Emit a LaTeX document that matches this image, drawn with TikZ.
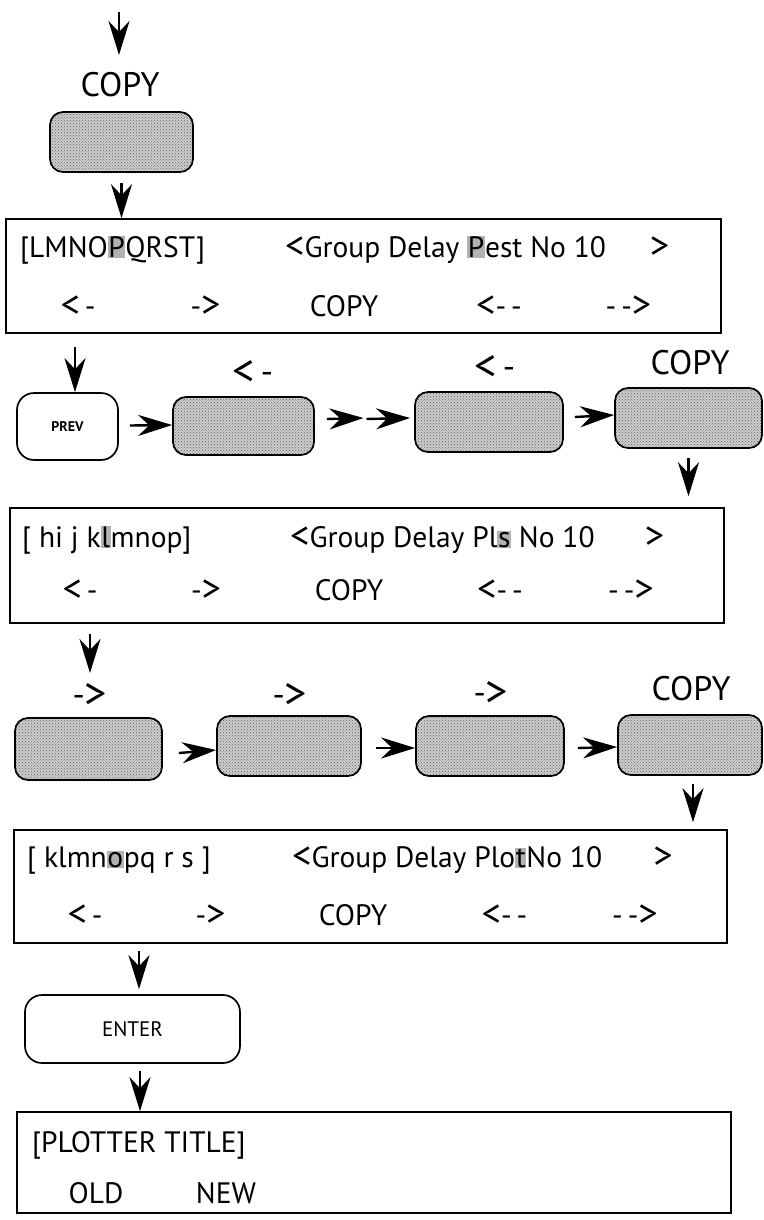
\documentclass[tikz,border=0pt]{standalone}
\usepackage{fontspec}
\setmainfont{PT Sans}
\usetikzlibrary{arrows.meta,patterns,calc}
\newcommand\cur[1]{{\fboxsep=0.6pt\colorbox{black!30}{#1}}}
\newcommand\lsym{\raisebox{-0.06em}{\scalebox{1.3}{<}}}
\newcommand\gsym{\raisebox{-0.06em}{\scalebox{1.3}{>}}}
\begin{document}
\begin{tikzpicture}[x=1pt,y=-1pt,
  key/.style={draw, line width=1.7pt, rounded corners=13pt, minimum height=60pt, inner sep=0pt,
     preaction={fill=black!20}, pattern=crosshatch dots, pattern color=black!60},
  plainkey/.style={draw, line width=1.7pt, rounded corners=17pt, inner sep=0pt, fill=white},
  screen/.style={draw, line width=1.6pt, inner sep=0pt},
  scr/.style={font=\fontsize{29.5}{32}\selectfont, inner sep=0pt},
  lbl/.style={font=\fontsize{34}{37}\selectfont, inner sep=0pt},
  tipst/.style={-{Stealth[length=34pt,width=21pt,inset=11pt]}},
  down/.style={line width=2.4pt, tipst},
  rarr/.style={line width=2.4pt, tipst},
]
\useasboundingbox (0,0) rectangle (763,1220);

% ---------- top ----------
\coordinate (t0) at (119,12);
\coordinate (t1) at (119,55);
\draw[down] (t0) -- (t1);
\node[lbl, anchor=base] (c0) at (120,97) {COPY};
\node[key, minimum width=143pt] (k0) at (121.5,142) {};

% ---------- screen 1 ----------
\node[screen, minimum width=715pt, minimum height=114pt] (s1) at (363.5,276) {};
\draw[down, shorten <=10pt] (k0.south) -- (k0.south |- s1.north);
\node[scr, anchor=base west] (s1a) at (20,257) {[LMNO\cur{P}QRST]};
\node[scr, anchor=base west] (s1b) at (285,257) {\lsym Group Delay \cur{P}est No 10};
\node[scr, anchor=base] (s1c) at (659.5,257) {\gsym};
\node[scr, anchor=base] (s1d) at (78,316) {\lsym\,-};
\node[scr, anchor=base] (s1e) at (205.5,316) {-\gsym};
\node[scr, anchor=base] (s1f) at (344,316) {COPY};
\node[scr, anchor=base] (s1g) at (499,316) {\lsym-{}\,-};
\node[scr, anchor=base] (s1h) at (628.5,316) {-{}\,-\gsym};

% ---------- row 1 ----------
\node[plainkey, minimum width=101pt, minimum height=67pt, font=\fontsize{14}{16}\selectfont\bfseries] (pv) at (67.5,426.5) {PREV};
\node[key, minimum width=141pt, minimum height=58pt] (r2) at (243.5,426) {};
\node[key, minimum width=148pt] (r3) at (489,422) {};
\node[key, minimum width=147pt] (r4) at (688.5,418) {};
\node[lbl, anchor=base] (l12) at (253,383) {\lsym\,-};
\node[lbl, anchor=base] (l13) at (495,378) {\lsym\,-};
\node[lbl, anchor=base] (l14) at (690,374) {COPY};
\coordinate (a1) at (75,0);
\draw[down, shorten <=13pt] (s1.south -| a1) -- (pv.north -| a1);
\draw[rarr] ($(pv.east)+(11,-1)$) -- ($(r2.west)+(0,-1)$);
\coordinate (m23) at ($(r2.east)!0.5!(r3.west)$);
\draw[rarr] ($(r2.east)+(12,-7)$) -- ($(m23)+(-1,-6)$);
\draw[rarr] ($(m23)+(2,-5)$) -- ($(r3.west)+(-4,-4)$);
\draw[rarr] ($(r3.east)+(11,-5)$) -- ($(r4.west)+(0,-3)$);

% ---------- screen 2 ----------
\node[screen, minimum width=714pt, minimum height=115pt] (s2) at (367,565.5) {};
\draw[down, shorten <=9pt, shorten >=11pt] (r4.south) -- (r4.south |- s2.north);
\node[scr, anchor=base west] (s2a) at (22,547) {[ hi j k\cur{l}mnop]};
\node[scr, anchor=base west] (s2b) at (290,547) {\lsym Group Delay Pl\cur{s} No 10};
\node[scr, anchor=base] (s2c) at (654.5,547) {\gsym};
\node[scr, anchor=base] (s2d) at (80,600) {\lsym\,-};
\node[scr, anchor=base] (s2e) at (206,600) {-\gsym};
\node[scr, anchor=base] (s2f) at (349,600) {COPY};
\node[scr, anchor=base] (s2g) at (500,600) {\lsym-{}\,-};
\node[scr, anchor=base] (s2h) at (631,600) {-{}\,-\gsym};

% ---------- row 2 ----------
\node[lbl, anchor=base] (l21) at (90,706) {-\gsym};
\node[lbl, anchor=base] (l22) at (290,706) {-\gsym};
\node[lbl, anchor=base] (l23) at (491,704) {-\gsym};
\node[lbl, anchor=base] (l24) at (691,700) {COPY};
\node[key, minimum width=147pt, minimum height=62pt] (q1) at (88.5,749) {};
\node[key, minimum width=144pt] (q2) at (289,746) {};
\node[key, minimum width=148pt] (q3) at (490,746) {};
\node[key, minimum width=144pt] (q4) at (690,745) {};
\coordinate (a2) at (90,673);
\draw[down, shorten <=10pt] (s2.south -| a2) -- (a2);
\draw[rarr] ($(q1.east)+(16,4)$) -- ($(q2.west)+(0,4)$);
\draw[rarr] ($(q2.east)+(14,2)$) -- ($(q3.west)+(0,2)$);
\draw[rarr] ($(q3.east)+(13,2)$) -- ($(q4.west)+(0,2)$);

% ---------- screen 3 ----------
\node[screen, minimum width=713pt, minimum height=113pt] (s3) at (370.5,886.5) {};
\draw[down, shorten <=8pt, shorten >=7pt] ($(q4.south)+(3,0)$) -- ($(q4.south |- s3.north)+(3,0)$);
\node[scr, anchor=base west] (s3a) at (27,867) {[ klmn\cur{o}pq r s ]};
\node[scr, anchor=base west] (s3b) at (292,867) {\lsym Group Delay Plo\cur{t}No 10};
\node[scr, anchor=base] (s3c) at (663,867) {\gsym};
\node[scr, anchor=base] (s3d) at (85,925) {\lsym\,-};
\node[scr, anchor=base] (s3e) at (210.5,925) {-\gsym};
\node[scr, anchor=base] (s3f) at (353,925) {COPY};
\node[scr, anchor=base] (s3g) at (504.5,925) {\lsym-{}\,-};
\node[scr, anchor=base] (s3h) at (635,925) {-{}\,-\gsym};

% ---------- enter ----------
\node[plainkey, minimum width=215pt, minimum height=68pt, font=\fontsize{21}{24}\selectfont] (en) at (132.5,1029) {ENTER};
\coordinate (a3) at (139,0);
\draw[down, shorten <=7pt, shorten >=5pt] (s3.south -| a3) -- (en.north -| a3);

% ---------- screen 4 ----------
\node[screen, minimum width=714pt, minimum height=101pt] (s4) at (374,1162.5) {};
\coordinate (a4) at (140,0);
\draw[down, shorten <=7pt] (en.south -| a4) -- (s4.north -| a4);
\node[scr, anchor=base west] (s4a) at (32,1152) {[PLOTTER TITLE]};
\node[scr, anchor=base] (s4b) at (96,1203) {OLD};
\node[scr, anchor=base] (s4c) at (226,1203) {NEW};
\end{tikzpicture}
\end{document}
